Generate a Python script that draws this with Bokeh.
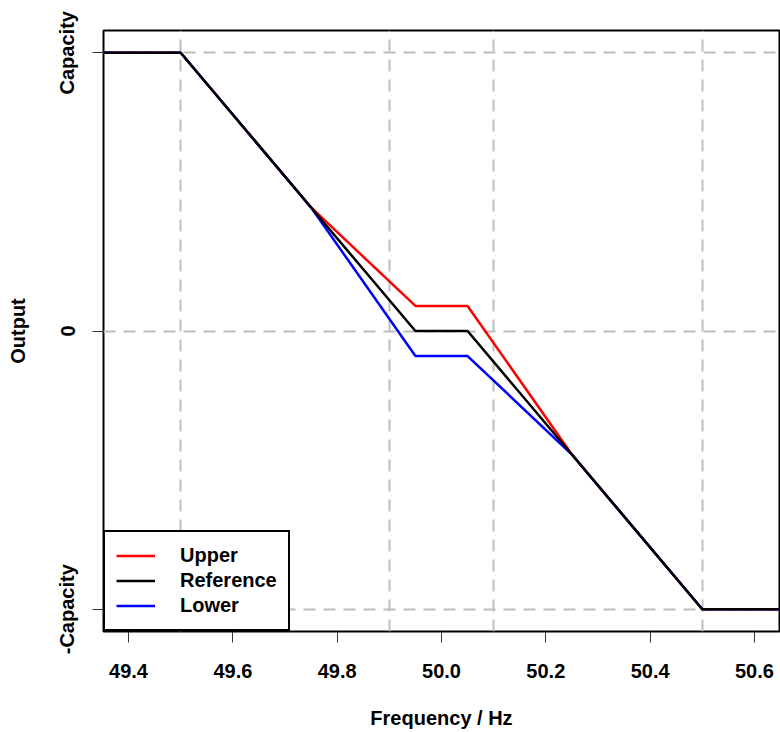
from bokeh.plotting import figure
from bokeh.models import (Range1d, FixedTicker, PrintfTickFormatter, Legend,
                          LegendItem)
from bokeh.embed import file_html
from bokeh.resources import INLINE

# Droop characteristic: output vs. grid frequency
freq = [49.30, 49.50, 49.75, 49.95, 50.05, 50.25, 50.50, 50.70]
upper = [1.0, 1.0, 0.444, 0.09, 0.09, -0.444, -1.0, -1.0]
reference = [1.0, 1.0, 0.444, 0.0, 0.0, -0.444, -1.0, -1.0]
lower = [1.0, 1.0, 0.444, -0.09, -0.09, -0.444, -1.0, -1.0]

x_ticks = [49.4, 49.6, 49.8, 50.0, 50.2, 50.4, 50.6]
y_ticks = [-1, 0, 1]
y_tick_labels = {-1: "-Capacity", 0: "0", 1: "Capacity"}
guide_freqs = [49.5, 49.9, 50.1, 50.5]

FONT = "Liberation Sans"

p = figure(width=780, height=732, output_backend="svg", toolbar_location=None,
           x_range=Range1d(49.352, 50.648), y_range=Range1d(-1.08, 1.08),
           min_border_left=103, min_border_right=1, min_border_top=30,
           min_border_bottom=101)
p.background_fill_color = "white"
p.border_fill_color = "white"
p.outline_line_color = "black"
p.outline_line_alpha = 1.0
p.outline_line_width = 2

# axes
for ax in (p.xaxis[0], p.yaxis[0]):
    ax.axis_line_color = None
    ax.major_tick_out = 11
    ax.major_tick_in = 0
    ax.major_tick_line_color = "#333333"
    ax.major_tick_line_width = 1
    ax.minor_tick_line_color = None
    ax.major_label_text_font = FONT
    ax.major_label_text_font_style = "bold"
    ax.major_label_text_font_size = "20px"
    ax.major_label_text_color = "black"
    ax.axis_label_text_font = FONT
    ax.axis_label_text_font_style = "bold"
    ax.axis_label_text_font_size = "20px"
    ax.axis_label_text_color = "black"

p.xaxis.ticker = FixedTicker(ticks=x_ticks)
p.xaxis.formatter = PrintfTickFormatter(format="%.1f")
p.xaxis.major_label_standoff = 21
p.xaxis.axis_label = "Frequency / Hz"
p.xaxis.axis_label_standoff = 26

p.yaxis.ticker = FixedTicker(ticks=y_ticks)
p.yaxis.major_label_overrides = y_tick_labels
p.yaxis.major_label_orientation = "vertical"
p.yaxis.major_label_standoff = 14
p.yaxis.axis_label = "Output"
p.yaxis.axis_label_standoff = 25

# dashed guide lines
p.xgrid.ticker = FixedTicker(ticks=guide_freqs)
p.ygrid.ticker = FixedTicker(ticks=y_ticks)
for g in (p.xgrid[0], p.ygrid[0]):
    g.grid_line_color = "#BEBEBE"
    g.grid_line_alpha = 1.0
    g.grid_line_width = 2
    g.grid_line_dash = "12 8"

r_up = p.line(freq, upper, line_color="red", line_width=2.5)
r_lo = p.line(freq, lower, line_color="blue", line_width=2.5)
r_ref = p.line(freq, reference, line_color="black", line_width=2.5)

legend = Legend(items=[LegendItem(label="Upper", renderers=[r_up]),
                       LegendItem(label="Reference", renderers=[r_ref]),
                       LegendItem(label="Lower", renderers=[r_lo])],
                location="bottom_left", margin=0, padding=11, spacing=0,
                glyph_width=39, glyph_height=25, label_height=25,
                label_standoff=25,
                label_text_font=FONT, label_text_font_style="bold",
                label_text_font_size="20px", label_text_color="black",
                border_line_color="black", border_line_alpha=1.0,
                border_line_width=2,
                background_fill_color="white", background_fill_alpha=1.0)
p.add_layout(legend)

open("out.html", "w").write(file_html(p, INLINE))
